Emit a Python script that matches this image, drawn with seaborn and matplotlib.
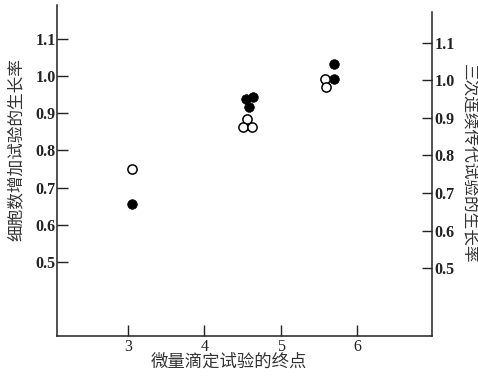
import numpy as np
import pandas as pd
import seaborn as sns
import matplotlib.pyplot as plt

sns.set_style("ticks")
plt.rcParams['font.family'] = ['Liberation Serif', 'Noto Sans CJK SC', 'DejaVu Sans']

# filled: cell number increase test; open: three serial passage test
filled_x = [3.05, 4.54, 4.63, 4.59, 5.70, 5.70]
filled_y = [0.656, 0.937, 0.943, 0.917, 1.032, 0.991]
open_x = [3.05, 4.56, 4.50, 4.62, 5.58, 5.59]
open_y = [0.750, 0.884, 0.862, 0.862, 0.993, 0.971]
x_ticks = [3, 4, 5, 6]
y_ticks = [0.5, 0.6, 0.7, 0.8, 0.9, 1.0, 1.1]

fig = plt.figure(figsize=(4.78, 3.77), dpi=100)
ax = fig.add_axes([57/478, 41/377, 375/478, 331/377])

sns.scatterplot(x=filled_x, y=filled_y, color="black", edgecolor="black",
                s=48, linewidth=0.5, ax=ax, zorder=3)
sns.scatterplot(x=open_x, y=open_y, color="white", edgecolor="black",
                s=44, linewidth=1.1, ax=ax, zorder=4)

ax.set_xlim(2.07, 6.98)
ax.set_ylim(0.301, 1.191)
ax.set_xticks(x_ticks)
ax.set_yticks(y_ticks)
ax.set_xticklabels([str(v) for v in x_ticks], fontsize=11.5)
ax.set_yticklabels([f"{v:.1f}" for v in y_ticks], fontsize=11.5, fontweight="bold")
ax.tick_params(axis="y", direction="in", length=8, width=1, pad=1, colors="#222222")
ax.tick_params(axis="x", direction="in", length=8, width=1, pad=2, colors="#222222")
ax.spines["top"].set_visible(False)
ax.spines["right"].set_visible(False)
for s in ["left", "bottom"]:
    ax.spines[s].set_linewidth(1.1)
    ax.spines[s].set_color("#222222")

ax2 = ax.twinx()
ax2.set_ylim(0.319, 1.201)
ax2.set_yticks(y_ticks)
ax2.set_yticklabels([f"{v:.1f}" for v in y_ticks], fontsize=11.5, fontweight="bold")
ax2.tick_params(axis="y", direction="in", length=7, width=1, pad=2, colors="#222222")
ax2.spines["top"].set_visible(False)
ax2.spines["right"].set_bounds(0.319, 1.183)
ax2.spines["right"].set_linewidth(1.1)
ax2.spines["right"].set_color("#222222")
for s in ["left", "bottom"]:
    ax2.spines[s].set_visible(False)

fig.text(18/478, 1 - 150/377, "细胞数增加试验的生长率", rotation=90,
         ha="center", va="center", fontsize=12, color="#333333")
fig.text(468/478, 1 - 164/377, "三次连续传代试验的生长率", rotation=-90,
         ha="center", va="center", fontsize=12, color="#333333")
fig.text(229/478, 1 - 363/377, "微量滴定试验的终点",
         ha="center", va="center", fontsize=12.5, color="#333333")

fig.savefig("out.png", dpi=100, facecolor="white")
